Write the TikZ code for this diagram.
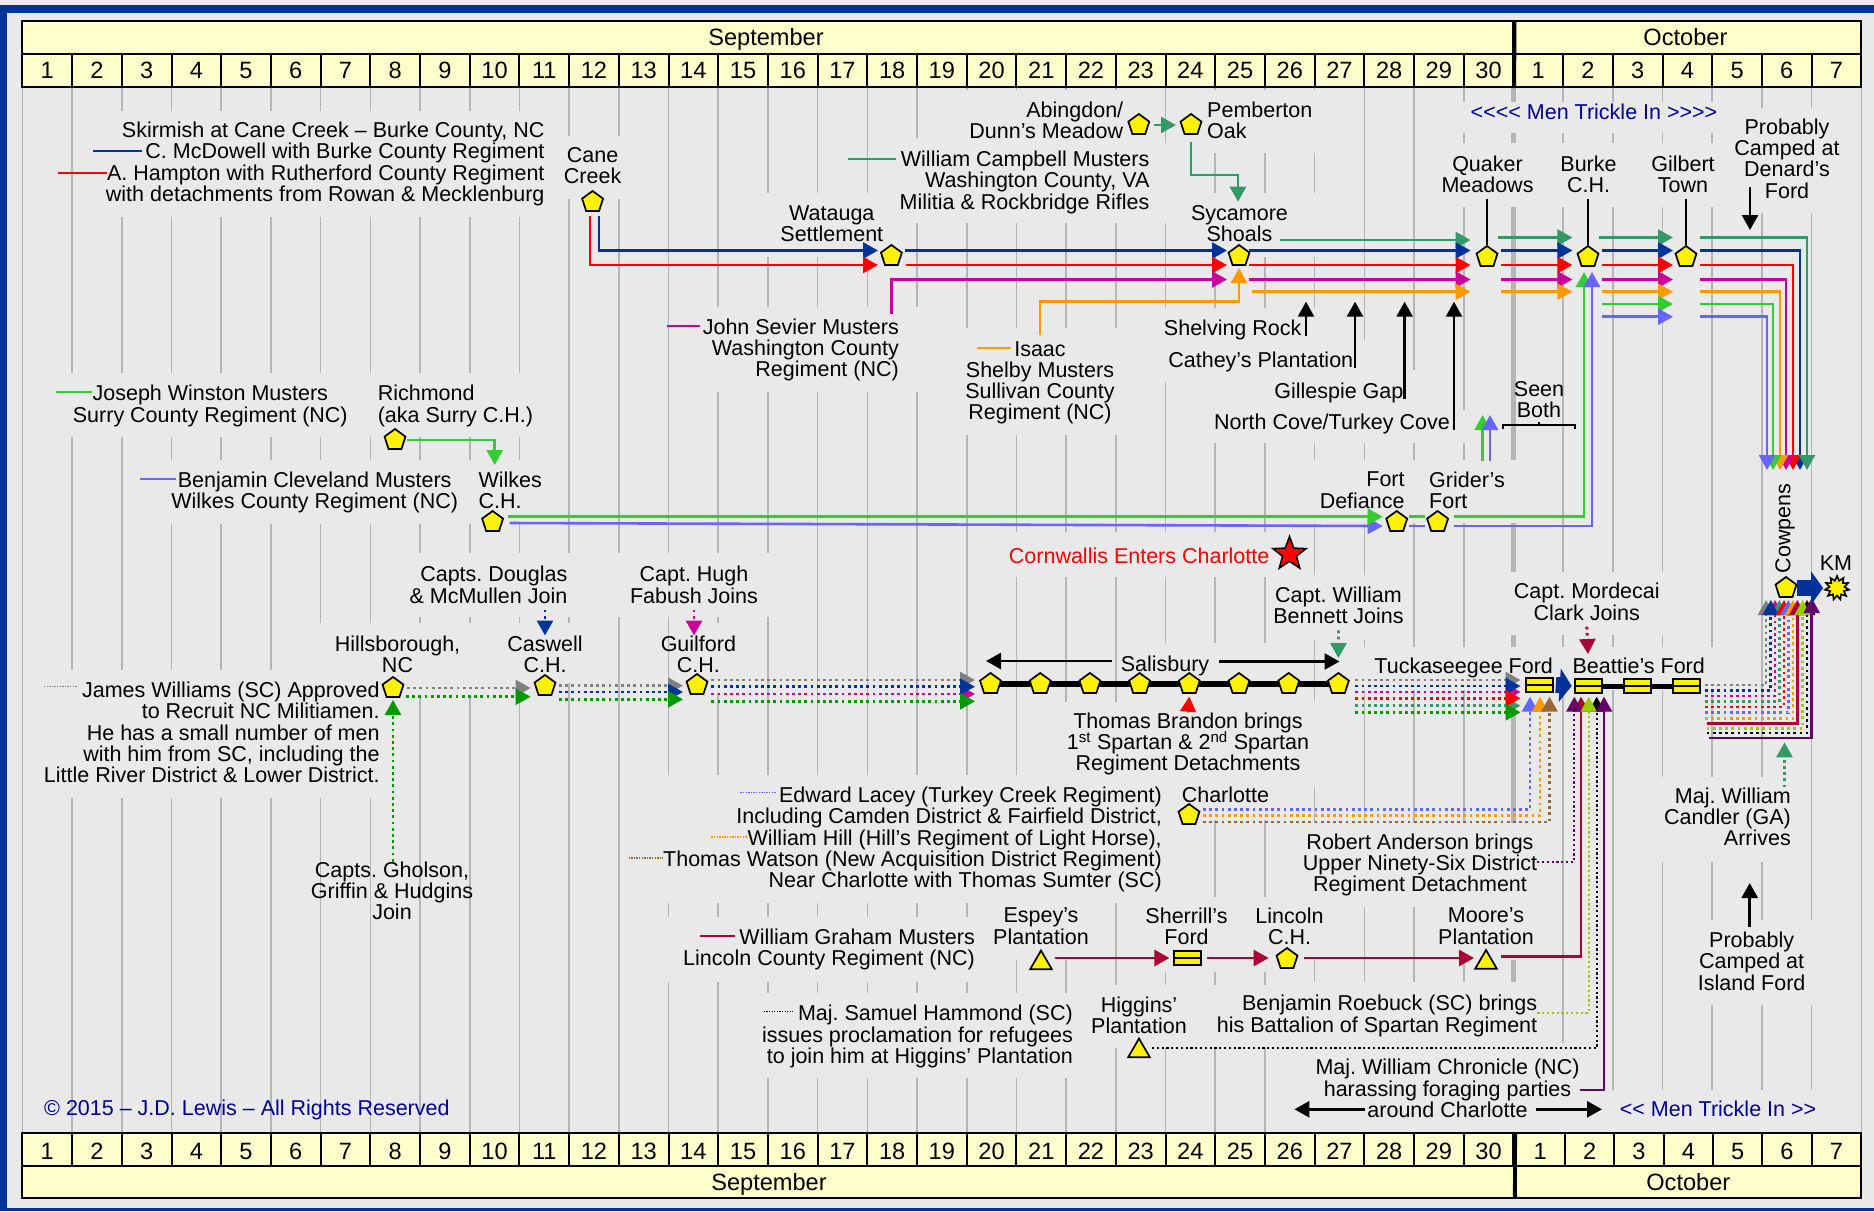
\documentclass[tikz,border=0pt]{standalone}
\usepackage{fontspec}
\setmainfont{Liberation Sans}
\newfontfamily\trickfont{Liberation Sans}
\usetikzlibrary{arrows.meta,shapes.geometric}
\definecolor{cFrame}{HTML}{003399}
\definecolor{cBack}{HTML}{E9E9E9}
\definecolor{cGrid}{HTML}{B5B5B5}
\definecolor{cCell}{HTML}{FFFFCC}
\definecolor{cNavy}{HTML}{000099}
\definecolor{cBlue}{HTML}{003399}
\definecolor{cRed}{HTML}{FF0000}
\definecolor{cMag}{HTML}{CC0099}
\definecolor{cOra}{HTML}{FF9900}
\definecolor{cWin}{HTML}{33CC33}
\definecolor{cCle}{HTML}{6666FF}
\definecolor{cCamp}{HTML}{339966}
\definecolor{cGray}{HTML}{808080}
\definecolor{cWil}{HTML}{009900}
\definecolor{cGra}{HTML}{AA0033}
\definecolor{cPur}{HTML}{660066}
\definecolor{cLime}{HTML}{99CC00}
\definecolor{cBrown}{HTML}{996633}
\newcommand{\lblfont}{\fontsize{21.5}{21.3}\selectfont\frenchspacing}
\newcommand{\headfont}{\fontsize{23.6}{23.6}\selectfont}
\pgfdeclarelayer{base}
\pgfdeclarelayer{links}
\pgfsetlayers{base,links,main}
\tikzset{
	lbl/.style={inner sep=0pt,font=\lblfont,execute at begin node=\strut,execute at end node=\strut},
	lblR/.style={lbl,align=right,anchor=north east,xshift=1pt},
	lblC/.style={lbl,align=center,anchor=north},
	lblL/.style={lbl,align=left,anchor=north west},
	cell/.style={draw=black,line width=2pt,fill=cCell,inner sep=0pt,font=\headfont,text height=20pt,text depth=5pt},
	stop/.style={regular polygon,regular polygon sides=5,draw=black,fill=yellow,line width=1.7pt,inner sep=0pt,minimum size=22pt},
	camp/.style={regular polygon,regular polygon sides=3,draw=black,fill=yellow,line width=1.7pt,inner sep=0pt,minimum size=25pt},
	ford/.style={draw=black,fill=yellow,line width=2pt,inner sep=0pt,minimum width=27pt,minimum height=14pt,
		path picture={\draw[black,line width=2pt] (path picture bounding box.west) -- (path picture bounding box.east);}},
	run/.style={line width=2.6pt},
	flow/.style={run,-{Triangle[length=15pt,width=16pt]}},
	dots/.style={line width=2.8pt,dash pattern=on 2.8pt off 3.4pt},
	fine/.style={line width=2.2pt,dash pattern=on 2.2pt off 2.6pt},
	fat/.style={line width=16pt,-{Triangle[length=12pt,width=33pt]}},
	swatch/.style={line width=1.7pt},
	swatchdot/.style={line width=1.4pt,dash pattern=on 1.3pt off 1.3pt}
}
\begin{document}
\begin{tikzpicture}[x=1pt,y=-1pt]
	\useasboundingbox (0,0) rectangle (1874,1211);
	\begin{pgfonlayer}{base}
		\fill[cBack] (0,0) rectangle (1874,1211);
		\fill[cFrame] (0,4.5) rectangle (1874,12.5);
		\fill[cFrame] (0,4.5) rectangle (7,1211);
		\fill[cFrame] (0,1208) rectangle (1874,1211);
		% day lines, cut open again below where the words sit
		\foreach \i in {0,...,37}
		\draw[cGrid,line width=1.6pt] ({22.4+\i*49.7},87) -- ({22.4+\i*49.7},1132);
		\draw[cGrid,line width=4.5pt] (1513.6,87) -- (1513.6,1132);
		\foreach \xa/\ya/\xb/\yb in {100/110.7/540/216.7,545/136/640/199,50/373/540/437,150/460/540/524,
			400/553/775/617,300/623/560/697,50/670/400/798,555/623/580/683,700/623/730/693,
			905/138/930/223,950/90/1130/223,1155/143/1180/223,1205/90/1330/153,1205/193/1330/257,
			755/193/880/257,710/307/930/392,950/328/1130/435,1155/308/1180/382,1205/308/1330/443,
			1350/340/1380/443,1400/370/1430/443,1450/410/1480/443,1300/460/1530/523,1000/532/1290/577,
			1040/702/1130/810,1150/643/1290/820,640/775/1190/903,660/917/1000/982,1000/775/1090/960,
			740/993/1090/1078,1150/897/1280/972,1100/985/1340/1048,1290/982/1550/1132,1290/1043/1575/1132,
			1600/1090/1830/1132,1300/575/1400/640,1500/572/1680/635,1330/647/1730/690,1300/701/1330/787,
			1300/823/1350/960,1450/823/1530/960,1350/823/1430/907,1650/777/1780/862,1700/920/1825/1005,
			1450/143/1725/207,1450/102/1725/133,1750/108/1825/213}
		\fill[cBack] (\xa,\ya) rectangle (\xb,\yb);
	\end{pgfonlayer}

	% header and footer
	\node[cell,minimum width=1491.2pt,minimum height=32.8pt] (sepT) at (768,37.6) {\kern-4pt September};
	\node[cell,minimum width=347.9pt,minimum height=32.8pt] (octT) at (1687.4,37.6) {\kern-4pt October};
	\foreach \d in {1,...,30}
	\node[cell,minimum width=49.7pt,minimum height=33pt] (dayT\d) at ({22.4+(\d-.5)*49.7},70.6) {\d};
	\foreach \d in {1,...,7}
	\node[cell,minimum width=49.7pt,minimum height=33pt] (octT\d) at ({1513.4+(\d-.5)*49.7},70.6) {\d};
	\draw[line width=3.5pt] (sepT.north east) -- (dayT30.south east);
	\foreach \d in {1,...,30}
	\node[cell,text height=24pt,text depth=4pt,minimum width=49.7pt,minimum height=33pt] (dayB\d) at ({22.4+(\d-.5)*49.7},1149.5) {\d};
	\foreach \d in {1,...,7}
	\node[cell,text height=24pt,text depth=4pt,minimum width=49.35pt,minimum height=33pt] (octB\d) at ({1515.6+(\d-.5)*49.35},1149.5) {\d};
	\node[cell,text height=22pt,text depth=4.6pt,minimum width=1493.2pt,minimum height=32.6pt] (sepB) at (769,1182) {September};
	\node[cell,text height=22pt,text depth=4.6pt,minimum width=345.4pt,minimum height=32.6pt] (octB) at (1688.3,1182) {October};
	\draw[line width=3.5pt] (dayB30.north east) ++(1.1,0) -- (1514.5,1198.3);

	% places
	\node[stop] (cane) at (592.6,202) {};
	\node[stop] (wat) at (891.4,256) {};
	\node[stop] (syc) at (1239,256) {};
	\node[stop] (abi) at (1138.8,125) {};
	\node[stop] (pem) at (1191,125) {};
	\node[stop] (qua) at (1487,257) {};
	\node[stop] (bur) at (1588,257) {};
	\node[stop] (gil) at (1686,257) {};
	\node[stop] (ric) at (395,440) {};
	\node[stop] (wil) at (492.6,522) {};
	\node[stop] (hil) at (393,688) {};
	\node[stop] (cas) at (545,686) {};
	\node[stop] (gui) at (697,685) {};
	\foreach \i in {1,...,8}
	\node[stop] (sal\i) at ({990.5+(\i-1)*49.7},684) {};
	\node[stop] (def) at (1396.7,522) {};
	\node[stop] (gri) at (1437.6,522) {};
	\node[stop] (cha) at (1189,815) {};
	\node[stop] (lin) at (1287,959) {};
	\node[stop] (cow) at (1786,588) {};
	\node[camp] (esp) at (1041,963) {};
	\node[camp] (hig) at (1139,1051) {};
	\node[camp] (moo) at (1486,962.5) {};
	\node[ford] (she) at (1187,958) {};
	\node[ford] (tuc) at (1539.5,685) {};
	\node[ford] (bea) at (1588,686) {};
	\node[ford] (fd3) at (1637,686) {};
	\node[ford] (fd4) at (1686.5,686) {};
	\node[star,star points=5,star point ratio=2.4,draw=black,fill=red,line width=1.5pt,inner sep=0pt,minimum size=35pt] (corn) at (1289.5,554) {};
	\node[star,star points=11,star point ratio=1.6,draw=black,fill=yellow,line width=1.6pt,inner sep=0pt,minimum size=24pt] (km) at (1837,588) {};

	% words
	\node[lblR] (lSki) at (543.7,121.8) {Skirmish at Cane Creek – Burke County, NC\\C. McDowell with Burke County Regiment\\A. Hampton with Rutherford County Regiment\\with detachments from Rowan \& Mecklenburg};
	\node[lblC] (lCane) at (592.6,147.4) {Cane\\Creek};
	\node[lblR] (lAbi) at (1122.4,101.8) {Abingdon/\\Dunn’s Meadow};
	\node[lblL] (lPem) at (1207,101.8) {Pemberton\\Oak};
	\node[lblR] (lCamp) at (1148.6,150.8) {William Campbell Musters\\Washington County, VA\\Militia \& Rockbridge Rifles};
	\node[lblC] (lWat) at (831.8,205.1) {Watauga\\Settlement};
	\node[lblC] (lSyc) at (1239.5,205.1) {Sycamore\\Shoals};
	\node[lblC] (lQua) at (1487.5,155.8) {Quaker\\Meadows};
	\node[lblC] (lBur) at (1588.5,155.8) {Burke\\C.H.};
	\node[lblC] (lGil) at (1683,155.8) {Gilbert\\Town};
	\node[lblC,text=cNavy] (lTrkT) at (1594,104) {\trickfont <<<< Men Trickle In >>>>};
	\node[lblC] (lDen) at (1787,118.4) {Probably\\Camped at\\Denard’s\\Ford};
	\node[lblR] (lSev) at (898,318.4) {John Sevier Musters\\Washington County\\Regiment (NC)};
	\node[lblC] (lShe) at (1040,341) {Isaac\\Shelby Musters\\Sullivan County\\Regiment (NC)};
	\node[lblR] (lShel) at (1300.6,320) {Shelving Rock};
	\node[lblR] (lCat) at (1352.4,351.8) {Cathey’s Plantation};
	\node[lblR] (lGap) at (1402.6,382.8) {Gillespie Gap};
	\node[lblR] (lCove) at (1449,413.4) {North Cove/Turkey Cove};
	\node[lblC] (lSeen) at (1539,381) {Seen\\Both};
	\node[lblC] (lWin) at (210.3,385) {Joseph Winston Musters\\Surry County Regiment (NC)};
	\node[lblL] (lRic) at (377.6,385) {Richmond\\(aka Surry C.H.)};
	\node[lblC] (lCle) at (314.7,471.8) {Benjamin Cleveland Musters\\Wilkes County Regiment (NC)};
	\node[lblL] (lWil) at (478.4,471.8) {Wilkes\\C.H.};
	\node[lblR] (lDef) at (1403.8,471.8) {Fort\\Defiance};
	\node[lblL] (lGri) at (1429,471.8) {Grider’s\\Fort};
	\node[lblR,text=red] (lCorn) at (1268.6,548) {Cornwallis Enters Charlotte};
	\node[lblR] (lDou) at (566.5,566) {Capts. Douglas\\\& McMullen Join};
	\node[lblC] (lFab) at (694,566) {Capt. Hugh\\Fabush Joins};
	\node[lblC] (lHil) at (397.5,635.5) {Hillsborough,\\NC};
	\node[lblC] (lCas) at (545,635.5) {Caswell\\C.H.};
	\node[lblC] (lGui) at (698.4,635.5) {Guilford\\C.H.};
	\node[lblR] (lJam) at (378.8,681.8) {James Williams (SC) Approved\\to Recruit NC Militiamen.\\He has a small number of men\\with him from SC, including the\\Little River District \& Lower District.};
	\node[lblC] (lGho) at (392,861.6) {Capts. Gholson,\\Griffin \& Hudgins\\Join};
	\node[lblC] (lSal) at (1165,655.8) {Salisbury};
	\node[lblC] (lBen) at (1338.5,586.8) {Capt. William\\Bennett Joins};
	\node[lblC] (lBra) at (1188,712.6) {Thomas Brandon brings\\1\smash{\textsuperscript{st}} Spartan \& 2\smash{\textsuperscript{nd}} Spartan\\Regiment Detachments};
	\node[lblC] (lTuc) at (1463.7,658) {Tuckaseegee Ford};
	\node[lblL] (lBea) at (1572.4,658) {Beattie’s Ford};
	\node[lblC] (lMor) at (1586.8,583) {Capt. Mordecai\\Clark Joins};
	\node[lbl,rotate=90] (lCow) at (1786,528.5) {Cowpens};
	\node[lblC] (lKm) at (1836,555) {KM};
	\node[lblR] (lLac) at (1161,786.8) {Edward Lacey (Turkey Creek Regiment)\\Including Camden District \& Fairfield District,\\William Hill (Hill’s Regiment of Light Horse),\\Thomas Watson (New Acquisition District Regiment)\\Near Charlotte with Thomas Sumter (SC)};
	\node[lblL] (lCha) at (1181.6,786.8) {Charlotte};
	\node[lblC] (lAnd) at (1420,833.4) {Robert Anderson brings\\Upper Ninety-Six District\\Regiment Detachment};
	\node[lblR] (lGra) at (974,928.4) {William Graham Musters\\Lincoln County Regiment (NC)};
	\node[lblC] (lEsp) at (1041,907.8) {Espey’s\\Plantation};
	\node[lblC] (lSher) at (1186.5,907.8) {Sherrill’s\\Ford};
	\node[lblC] (lLin) at (1289.5,907.8) {Lincoln\\C.H.};
	\node[lblC] (lMoo) at (1486,907.8) {Moore’s\\Plantation};
	\node[lblR] (lHam) at (1072,1005) {Maj. Samuel Hammond (SC)\\issues proclamation for refugees\\to join him at Higgins’ Plantation};
	\node[lblC] (lHig) at (1139,996.8) {Higgins’\\Plantation};
	\node[lblR] (lRoe) at (1536.4,995) {Benjamin Roebuck (SC) brings\\his Battalion of Spartan Regiment};
	\node[lblC] (lChr) at (1447.5,1059) {Maj. William Chronicle (NC)\\harassing foraging parties\\around Charlotte};
	\node[lblC,text=cNavy] (lTrkB) at (1718,1101) {\trickfont << Men Trickle In >>};
	\node[lblR] (lCan) at (1790,787.4) {Maj. William\\Candler (GA)\\Arrives};
	\node[lblC] (lIsl) at (1751.6,931.8) {Probably\\Camped at\\Island Ford};
	\node[lblL,text=cNavy] (lCopy) at (44,1100) {© 2015 – J.D. Lewis – All Rights Reserved};

	% rows of the upper march
	\coordinate (yCamp) at (0,240);
	\coordinate (yCampB) at (0,237.5);
	\coordinate (yBlue) at (0,250.5);
	\coordinate (yRed) at (0,265);
	\coordinate (yMag) at (0,279.5);
	\coordinate (yOra) at (0,291.7);
	\coordinate (yWin) at (0,304);
	\coordinate (yCle) at (0,316.7);
	\coordinate (yWest) at (0,516.7);
	\coordinate (yEast) at (0,526);
	\coordinate (yGra) at (0,958);
	\coordinate (yUp) at (0,301.7);
	\coordinate (dA) at (1750,187);
	\coordinate (dB) at (1750,230);
	\coordinate (iA) at (1749.7,926.7);
	\coordinate (iB) at (1749.7,883);
	\coordinate (brace) at (1539,425);
	\coordinate (aL) at (1294.4,1109.3);
	\coordinate (aR) at (1602,1109.3);
	\coordinate (sL) at (986,661);
	\coordinate (sR) at (1339.5,661.5);

	\begin{pgfonlayer}{links}
		% Cane Creek to Sycamore Shoals
		\draw[flow,cBlue] ([shift={(6.2,14)}]cane.center) |- ([xshift=-13.4pt]wat.center |- yBlue);
		\draw[flow,cRed] ([shift={(-2.6,14)}]cane.center) |- ([xshift=-13.4pt]wat.center |- yRed);
		\draw[flow,cBlue] ([xshift=13.6pt]wat.center |- yBlue) -- ([xshift=-12pt]syc.center |- yBlue);
		\draw[flow,cRed] ([xshift=15pt]wat.center |- yRed) -- ([xshift=-12pt]syc.center |- yRed);
		\draw[flow,cMag] ([yshift=-58pt]wat.center) |- ([xshift=-12pt]syc.center |- yMag);
		\draw[flow,cOra] ([yshift=6pt]lShe.north) -- ++(0,-33.3) -| ([yshift=-12pt]syc.center);
		\draw[flow,cCamp] ([xshift=14.7pt]abi.center) -- ([xshift=-15pt]pem.center);
		\draw[flow,cCamp] ([yshift=-16.7pt]pem.center) -- ++(0,33.3) -| ([shift={(-1,-54.3)}]syc.center);

		% Sycamore Shoals, Quaker Meadows, Burke C.H., Gilbert Town
		\draw[flow,cCamp] ([xshift=41pt]syc.center |- yCamp) -- ([xshift=-16.5pt]qua.center |- yCamp);
		\foreach \cl/\rw in {cBlue/yBlue,cRed/yRed,cMag/yMag}
		\draw[flow,\cl] ([xshift=10pt]syc.center |- \rw) -- ([xshift=-16.5pt]qua.center |- \rw);
		\draw[flow,cOra] ([xshift=13pt]syc.center |- yOra) -- ([xshift=-16.5pt]qua.center |- yOra);
		\draw[flow,cCamp] ([xshift=11pt]qua.center |- yCampB) -- ([xshift=-15.6pt]bur.center |- yCampB);
		\foreach \cl/\rw in {cBlue/yBlue,cRed/yRed,cMag/yMag,cOra/yOra}
		\draw[flow,\cl] ([xshift=14pt]qua.center |- \rw) -- ([xshift=-15.6pt]bur.center |- \rw);
		\draw[flow,cCamp] ([xshift=10.7pt]bur.center |- yCampB) -- ([xshift=-13pt]gil.center |- yCampB);
		\foreach \cl/\rw in {cBlue/yBlue,cRed/yRed,cMag/yMag,cOra/yOra,cWin/yWin,cCle/yCle}
		\draw[flow,\cl] ([xshift=14pt]bur.center |- \rw) -- ([xshift=-13pt]gil.center |- \rw);
		\foreach \cl/\rw/\dx in {cBlue/yBlue/14,cRed/yRed/7,cMag/yMag/0,cOra/yOra/-6,cWin/yWin/-13,cCle/yCle/-19,cCamp/yCampB/21}
		\draw[flow,\cl] ([xshift=14pt]gil.center |- \rw) -| ([shift={(\dx,-118)}]cow.center);
		\draw[line width=1.6pt] (qua.north |- lQua.south) -- (qua.north);
		\draw[line width=1.6pt] (bur.north |- lBur.south) -- (bur.north);
		\draw[line width=1.6pt] (gil.north |- lGil.south) -- (gil.north);
		\foreach \nd/\dx in {lShel/4.4,lCat/1.6,lGap/1,lCove/4}
		\draw[flow,black] ([shift={(\dx,-6)}]\nd.south east) -- ([xshift=\dx pt]\nd.south east |- yUp);
		\draw[flow,black] (dA) -- (dB);
		\draw[flow,black] (iA) -- (iB);

		% Richmond, Wilkes C.H., the two forts
		\draw[flow,cWin] ([xshift=12pt]ric.center) -| ([shift={(2.1,-57)}]wil.center);
		\draw[flow,cCle] ([shift={(17,1)}]wil.center) -- ([shift={(-14,4)}]def.center);
		\draw[flow,cWin] ([xshift=15.5pt]wil.center |- yWest) -- ([xshift=-14pt]def.center |- yWest);
		\draw[run,cWin] ([xshift=12.5pt]def.center |- yWest) -- ([xshift=-12.5pt]gri.center |- yWest);
		\draw[run,cCle] ([xshift=12.5pt]def.center |- yEast) -- ([xshift=-12.5pt]gri.center |- yEast);
		\draw[flow,cWin] ([xshift=16pt]gri.center |- yWest) -| ([shift={(-4,15)}]bur.center);
		\draw[flow,cCle] ([xshift=16pt]gri.center |- yEast) -| ([shift={(4,15)}]bur.center);
		\draw[flow,cWin] ([shift={(45,-61)}]gri.center) -- ([shift={(45,-107)}]gri.center);
		\draw[flow,cCle] ([shift={(52.4,-61)}]gri.center) -- ([shift={(52.4,-107)}]gri.center);
		\draw[line width=1.6pt] ([shift={(-36,4)}]brace) |- ([shift={(36,0)}]brace) -- ++(0,4);
		\draw[line width=1.6pt] (brace) -- ++(0,-3.5);

		% Hillsborough to Salisbury
		\draw[flow,dots,cGray] ([xshift=14pt]hil.center |- 0,688) -- ([xshift=-14.4pt]cas.center |- 0,688);
		\draw[flow,dots,cWil] ([xshift=13pt]hil.center |- 0,696.7) -- ([xshift=-14.4pt]cas.center |- 0,696.7);
		\draw[flow,dots,cWil] (hil.center |- lGho.north) -- ([yshift=-12pt]hil.center);
		\foreach \cl/\yy in {cGray/685.7,cBlue/692,cWil/699.3}
		\draw[flow,dots,\cl] ([xshift=14pt]cas.center |- 0,\yy) -- ([xshift=-14pt]gui.center |- 0,\yy);
		\foreach \cl/\yy in {cGray/680,cMag/694,cBlue/686.7,cWil/701.3}
		\draw[flow,dots,\cl] ([xshift=14.4pt]gui.center |- 0,\yy) -- ([xshift=-15.5pt]sal1.center |- 0,\yy);
		\draw[flow,dots,cBlue] (cas.center |- lDou.south) -- (cas.center |- lCas.north);
		\draw[flow,dots,cMag] (lFab.south) -- (lFab.south |- lGui.north);
		\draw[line width=6pt] (sal1.center) -- (sal8.center);
		\draw[flow,black] (lSal.west |- sL) ++(-9,0) -- (sL);
		\draw[flow,black] (lSal.east |- sR) ++(10,0) -- (sR);
		\draw[flow,dots,cCamp] (lBen.south) -- ([yshift=26pt]sal8.center);
		\draw[flow,cRed,line width=1pt] (lBra.north) -- ([yshift=-12.7pt]sal5.center);

		% Salisbury to Tuckaseegee Ford, and on to Beattie's Ford
		\foreach \cl/\yy in {cGray/680,cMag/692,cCamp/705.7,cBlue/686,cRed/698.3,cWil/712.3}
		\draw[flow,dots,\cl] ([xshift=17pt]sal8.center |- 0,\yy) -- ([xshift=-19pt]tuc.center |- 0,\yy);
		\foreach \cl/\yy/\dx in {cCle/809.3/-9.5,cOra/815.5/.5,cBrown/822/10}
		\draw[flow,dots,\cl] ([xshift=14pt]cha.center |- 0,\yy) -| ([shift={(\dx,11.7)}]tuc.center);
		\draw[fat,cBlue] ([xshift=16.3pt]tuc.center) -- ([xshift=-16.3pt]bea.center);
		\draw[line width=5pt] (bea.center) -- (fd4.center);

		% into Beattie's Ford from below
		\draw[flow,cGra] ([xshift=15pt]moo.center |- 0,956.7) -| ([shift={(-7,10.7)}]bea.center);
		\draw[flow,fine,black] ([xshift=13pt]hig.center |- 0,1048.3) -| ([shift={(8.7,10.7)}]bea.center);
		\draw[flow,fine,cPur] (lAnd.east |- 0,861.7) -| ([shift={(-13.7,10.7)}]bea.center);
		\draw[flow,fine,cLime] (lRoe.east |- 0,1012.7) -| ([shift={(.7,10.7)}]bea.center);
		\draw[flow,cPur] (lChr.east |- 0,1090) -| ([shift={(16,10.7)}]bea.center);
		\draw[flow,cGra] ([xshift=13.7pt]esp.center |- yGra) -- ([xshift=-17.6pt]she.center |- yGra);
		\draw[flow,cGra] ([xshift=20pt]she.center |- yGra) -- ([xshift=-18.4pt]lin.center |- yGra);
		\draw[flow,cGra] ([xshift=17pt]lin.center |- yGra) -- ([xshift=-12pt]moo.center |- yGra);
		\draw[flow,dots,cGra] (lMor.south) -- ([yshift=32pt]bea.center);
		\draw[flow,black] (lChr.west |- aL) ++(50,0) -- (aL);
		\draw[flow,black] (lChr.east |- aR) ++(-44,0) -- (aR);

		% Beattie's Ford to Cowpens
		\foreach \cl/\yy/\dx in {cGray/685/-20,cMag/696/-11,cCamp/701.7/-6.7,cBlue/690.7/-15.3,cRed/707/-2,cCle/712.7/2.3,cOra/718.3/7}
		\draw[flow,dots,\cl] ([xshift=18.5pt]fd4.center |- 0,\yy) -| ([shift={(\dx,12)}]cow.center);
		\draw[flow,cGra] ([xshift=20pt]fd4.center |- 0,723.7) -| ([shift={(11.3,12)}]cow.center);
		\draw[flow,dots,black] ([xshift=20pt]fd4.center |- 0,733) -| ([shift={(21,12)}]cow.center);
		\draw[flow,dots,cLime] ([xshift=20pt]fd4.center |- 0,728.3) -| ([shift={(16.7,12)}]cow.center);
		\draw[flow,cPur] ([xshift=22pt]fd4.center |- 0,738) -| ([shift={(25.7,10)}]cow.center);
		\draw[flow,dots,cCamp] ([xshift=-6.5pt]lCan.north east) -- ([shift={(-6.5,-45)}]lCan.north east);
		\draw[fat,cBlue] ([xshift=11pt]cow.center) -- ([xshift=-14pt]km.center);
	\end{pgfonlayer}

	% short keys beside the names
	\foreach \cl/\xa/\xb/\yy in {cBlue/93/142/150.7,cRed/58/107/172.7,cWin/56/92/391.7,cCle/140/175.5/479,cCamp/848/896/158.7,
		cMag/666.5/700.4/325.7,cOra/976.7/1010.6/347.7,cGra/700/735/936}
	\draw[swatch,\cl] (\xa,\yy) -- (\xb,\yy);
	\foreach \cl/\xa/\xb/\yy in {cGray/44/77.5/686.7,cCle/740.4/776.7/792.7,cOra/711.4/747/837,cBrown/628.6/663/858,black/763.7/793/1011.7}
	\draw[swatchdot,\cl] (\xa,\yy) -- (\xb,\yy);
\end{tikzpicture}
\end{document}
